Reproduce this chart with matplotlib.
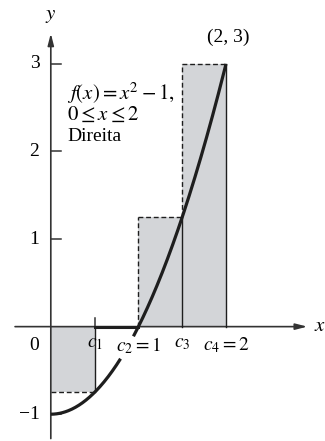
import matplotlib
matplotlib.use("Agg")
import matplotlib.pyplot as plt
import numpy as np

plt.rcParams['font.family'] = ['Liberation Serif', 'DejaVu Serif']
plt.rcParams['mathtext.fontset'] = 'stix'

# Riemann sum data (right endpoints)
lefts = [0.0, 0.5, 1.0, 1.5]
c_points = [0.5, 1.0, 1.5, 2.0]
heights = [-0.75, 0.0, 1.25, 3.0]
y_ticks = [-1, 1, 2, 3]
y_tick_labels = ['\u22121', '1', '2', '3']
x_labels = ['$c_1$', '$c_2 = 1$', '$c_3$', '$c_4 = 2$']

fill_col = '#d3d5d8'
line_col = '#1e1e1e'

fig = plt.figure(figsize=(3.25, 4.41), dpi=100)
ax = fig.add_axes([0, 0, 1, 1])
ax.set_xlim(-0.58, 3.13)
ax.set_ylim(-1.306, 3.73)
ax.axis('off')

# shaded rectangles
ax.bar(lefts, heights, width=0.5, align='edge', color=fill_col, linewidth=0, zorder=1)

# rectangle edges
for i in range(len(lefts)):
    h = heights[i]
    if h == 0:
        ax.plot([lefts[i], c_points[i]], [0, 0], color=line_col, lw=2.2, zorder=4)
        continue
    ax.plot([c_points[i], c_points[i]], [0, h], color=line_col, lw=1.0, zorder=3)
    ax.plot([lefts[i], c_points[i]], [h, h], color=line_col, lw=1.0, ls=(0, (3.5, 2)), zorder=3)
    if i > 0 and h > heights[i - 1]:
        ax.plot([lefts[i], lefts[i]], [max(heights[i - 1], 0), h], color=line_col, lw=1.0,
                ls=(0, (3.5, 2)), zorder=3)

# curve f(x) = x^2 - 1, broken behind the c2 label
xs = np.linspace(0, 2, 300)
ys = xs ** 2 - 1
ys[(xs > 0.8) & (xs < 0.94)] = np.nan
ax.plot(xs, ys, color=line_col, lw=2.3, zorder=5, solid_capstyle='butt')

# axes with arrows
ax.annotate('', xy=(2.96, 0), xytext=(-0.44, 0),
            arrowprops=dict(arrowstyle='-|>,head_length=0.7,head_width=0.18', color='#333333', lw=1.2),
            zorder=2)
ax.annotate('', xy=(0, 3.38), xytext=(0, -1.31),
            arrowprops=dict(arrowstyle='-|>,head_length=0.7,head_width=0.18', color='#333333', lw=1.2),
            zorder=2)
ax.text(0, 3.45, '$y$', fontsize=15, ha='center', va='bottom')
ax.text(3.0, 0.0, '$x$', fontsize=15, ha='left', va='center')

# y ticks
for t, lab in zip(y_ticks, y_tick_labels):
    ax.plot([0, 0.12], [t, t], color='#333333', lw=1.1, zorder=2)
    ax.text(-0.13, t, lab, fontsize=14, ha='right', va='center')
ax.text(-0.13, -0.22, '0', fontsize=14, ha='right', va='center')

# x tick at c1
ax.plot([c_points[0], c_points[0]], [0, 0.1], color='#333333', lw=1.1, zorder=2)
for c, lab in zip(c_points, x_labels):
    ax.text(c, -0.1, lab, fontsize=14, ha='center', va='top')

# annotations
ax.text(0.19, 2.66, '$f(x) = x^2 - 1,$', fontsize=15, ha='left', va='center')
ax.text(0.19, 2.42, '$0 \\leq x \\leq 2$', fontsize=15, ha='left', va='center')
ax.text(0.19, 2.17, 'Direita', fontsize=14, ha='left', va='center')
ax.text(2.02, 3.2, '(2, 3)', fontsize=14, ha='center', va='bottom')

fig.savefig('out.png', dpi=100)
